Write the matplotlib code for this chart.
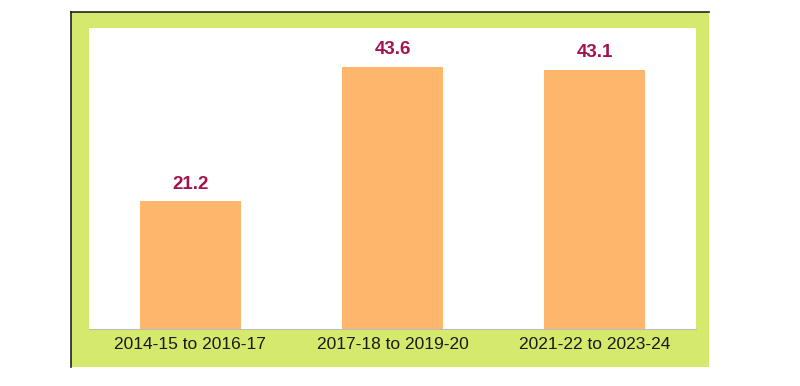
import matplotlib
matplotlib.use('Agg')

import matplotlib.pyplot as plt
from matplotlib.patches import Rectangle
from matplotlib.lines import Line2D

# data
periods = ['2014-15 to 2016-17', '2017-18 to 2019-20', '2021-22 to 2023-24']
values = [21.2, 43.6, 43.1]

plt.rcParams['font.family'] = ['Liberation Sans', 'DejaVu Sans']

fig = plt.figure(figsize=(8, 3.86), dpi=100)
fig.patch.set_facecolor('white')

# green panel behind the chart, with a dark edge on left and top
x0, x1 = 71 / 800, 709 / 800
y0, y1 = (386 - 367) / 386, (386 - 12) / 386
fig.patches.append(Rectangle((x0, y0), x1 - x0, y1 - y0, transform=fig.transFigure,
                             facecolor='#d5e96d', edgecolor='none', zorder=-1))
fig.lines.append(Line2D([x0, x0], [y0, y1], transform=fig.transFigure, color='#222222', lw=1.2))
fig.lines.append(Line2D([x0, x1], [y1, y1], transform=fig.transFigure, color='#222222', lw=1.2))

ax = fig.add_axes([89 / 800, (386 - 329) / 386, 607 / 800, 301 / 386])
ax.set_facecolor('white')

xs = range(len(periods))
bars = ax.bar(xs, values, width=0.5, color='#fdb66b', zorder=2)

for b, v in zip(bars, values):
    ax.text(b.get_x() + b.get_width() / 2, v + 1.4, f'{v:.1f}', ha='center', va='bottom',
            fontsize=13.5, fontweight='bold', color='#a3134f')

ax.set_xlim(-0.5, 2.5)
ax.set_ylim(0, 50)
ax.set_xticks(list(xs))
ax.set_xticklabels(periods, fontsize=12.5, color='#1a1a1a')
ax.tick_params(axis='x', length=0, pad=6)
ax.set_yticks([])

for side in ['top', 'left', 'right']:
    ax.spines[side].set_visible(False)
ax.spines['bottom'].set_color('#bdbdbd')

fig.savefig('out.png', dpi=100, facecolor=fig.get_facecolor())
